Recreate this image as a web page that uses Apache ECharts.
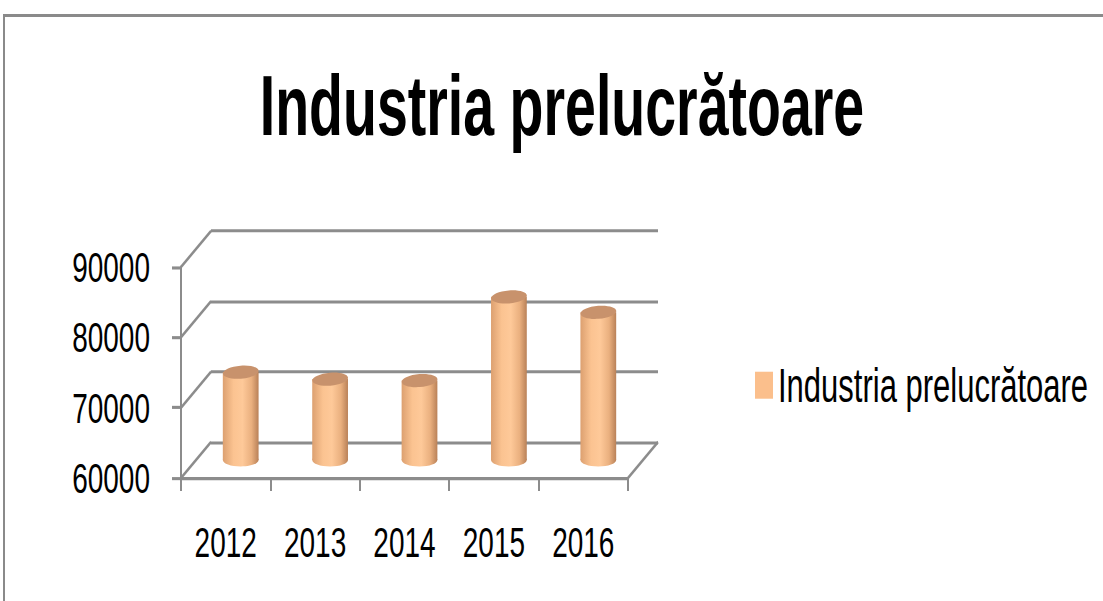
<!DOCTYPE html>
<html>
<head>
<meta charset="utf-8">
<script src="https://cdn.jsdelivr.net/npm/echarts@6/dist/echarts.min.js"></script>
<style>
html,body{margin:0;padding:0;background:#fff;overflow:hidden;width:1103px;height:601px;}
/* The reference is an Excel chart stretched vertically; the chart is drawn
   in a shorter box and stretched the same way with a CSS transform. */
#chart{width:1103px;height:388px;transform:scaleY(1.5489690721649485);transform-origin:0 0;}
</style>
</head>
<body>
<div id="chart"></div>
<script>
// ---- data ----
var titleText = 'Industria prelucrătoare';
var seriesName = 'Industria prelucrătoare';
var categories = ['2012', '2013', '2014', '2015', '2016'];
var values = [72500, 71500, 71300, 83200, 81000];
var yTicks = [60000, 70000, 80000, 90000];

// ---- layout / style ----
var SY = 601 / 388;                 // vertical stretch applied by CSS
function v(y) { return y / SY; }    // picture px -> chart px (vertical)
var FONT = '"Liberation Sans", Arial, sans-serif';
var LINE = '#8c8c8c';
var LW = 2;
var YMIN = 60000, YMAX = 90000, YINT = 10000;
var FRONT = {left: 181, top: v(267), width: 447, height: v(478) - v(267)};
var BACK = {left: 211, top: v(231), width: 447, height: v(478) - v(267)};
var DX = BACK.left - FRONT.left, DY = BACK.top - FRONT.top;

var chart = echarts.init(document.getElementById('chart'), null, {renderer: 'svg'});

function wallRender(params, api) {
  var cs = params.coordSys;
  var val = api.value(0);
  var y = api.coord([0, val])[1];
  var children = [{
    type: 'line',
    shape: {x1: cs.x, y1: y, x2: cs.x + DX, y2: y + DY},
    style: {stroke: LINE, lineWidth: LW}
  }];
  if (val === YMIN) {
    children.push({
      type: 'line',
      shape: {x1: cs.x + cs.width, y1: y, x2: cs.x + cs.width + DX, y2: y + DY},
      style: {stroke: LINE, lineWidth: LW}
    });
  }
  return {type: 'group', children: children};
}

function cylRender(params, api) {
  var i = api.value(0);
  var top = api.coord([i, api.value(1)]);
  var base = api.coord([i, YMIN]);
  var w = api.size([1, 0])[0] * 0.40;
  var cx = top[0] + DX / 2;
  var ty = top[1] + DY / 2;
  var by = base[1] + DY / 2;
  var rx = w / 2, ry = v(6.5);
  var grad = new echarts.graphic.LinearGradient(0, 0, 1, 0, [
    {offset: 0, color: '#dca070'},
    {offset: 0.3, color: '#fbc391'},
    {offset: 0.55, color: '#fec999'},
    {offset: 0.8, color: '#eab07f'},
    {offset: 1, color: '#b98158'}
  ]);
  return {
    type: 'group',
    children: [
      {type: 'ellipse', shape: {cx: cx, cy: by, rx: rx, ry: ry}, style: {fill: grad}},
      {type: 'rect', shape: {x: cx - rx, y: ty, width: w, height: by - ty}, style: {fill: grad}},
      {type: 'ellipse', shape: {cx: cx, cy: ty, rx: rx, ry: ry},
        rotation: 0.05, originX: cx, originY: ty,
        style: {fill: '#c8926c'}}
    ]
  };
}

chart.setOption({
  backgroundColor: '#fff',
  animation: false,
  title: {
    text: titleText,
    left: 562,
    top: v(105) - 28,
    textAlign: 'center',
    padding: 0,
    textStyle: {fontFamily: FONT, fontWeight: 'bold', fontSize: 55.5, color: '#000'}
  },
  legend: {
    left: 755,
    top: v(386) - 16,
    padding: 0,
    orient: 'vertical',
    itemWidth: 18,
    itemHeight: v(27),
    data: [{name: seriesName, icon: 'rect', itemStyle: {color: '#fbbf8c'}}],
    textStyle: {fontFamily: FONT, fontSize: 31, color: '#000'}
  },
  graphic: [
    {type: 'line', shape: {x1: 3, y1: v(15.5), x2: 1103, y2: v(15.5)}, style: {stroke: '#8a8a8a', lineWidth: 2}},
    {type: 'line', shape: {x1: 4, y1: v(15), x2: 4, y2: 388}, style: {stroke: '#8a8a8a', lineWidth: 2}}
  ],
  grid: [
    {left: FRONT.left, top: FRONT.top, width: FRONT.width, height: FRONT.height},
    {left: BACK.left, top: BACK.top, width: BACK.width, height: BACK.height}
  ],
  xAxis: [
    {
      gridIndex: 0, type: 'category', data: categories, boundaryGap: true,
      axisLine: {lineStyle: {color: LINE, width: LW}},
      axisTick: {show: true, interval: 0, length: v(13), lineStyle: {color: LINE, width: LW}},
      axisLabel: {interval: 0, fontFamily: FONT, fontSize: 28, color: '#000', margin: v(542) - v(478) - 14}
    },
    {gridIndex: 1, type: 'category', data: categories, show: false}
  ],
  yAxis: [
    {
      gridIndex: 0, type: 'value', min: YMIN, max: YMAX, interval: YINT,
      axisLine: {show: true, lineStyle: {color: LINE, width: LW}},
      axisTick: {show: true, length: 9, lineStyle: {color: LINE, width: LW}},
      splitLine: {show: false},
      axisLabel: {fontFamily: FONT, fontSize: 28, color: '#000', margin: 31,
        formatter: function (val) { return String(val); }}
    },
    {
      gridIndex: 1, type: 'value', min: YMIN, max: YMAX, interval: YINT,
      axisLine: {show: false}, axisTick: {show: false}, axisLabel: {show: false},
      splitLine: {show: true, lineStyle: {color: LINE, width: LW}}
    }
  ],
  series: [
    {
      name: 'walls', type: 'custom', xAxisIndex: 0, yAxisIndex: 0,
      renderItem: wallRender, silent: true, z: 1,
      data: yTicks.map(function (t) { return [t]; }),
      encode: {x: -1, y: 0}
    },
    {
      name: seriesName, type: 'custom', xAxisIndex: 0, yAxisIndex: 0,
      renderItem: cylRender, z: 3,
      itemStyle: {color: '#fbbf8c'},
      data: values.map(function (val, i) { return [i, val]; }),
      encode: {x: 0, y: 1}
    }
  ]
});
</script>
</body>
</html>
